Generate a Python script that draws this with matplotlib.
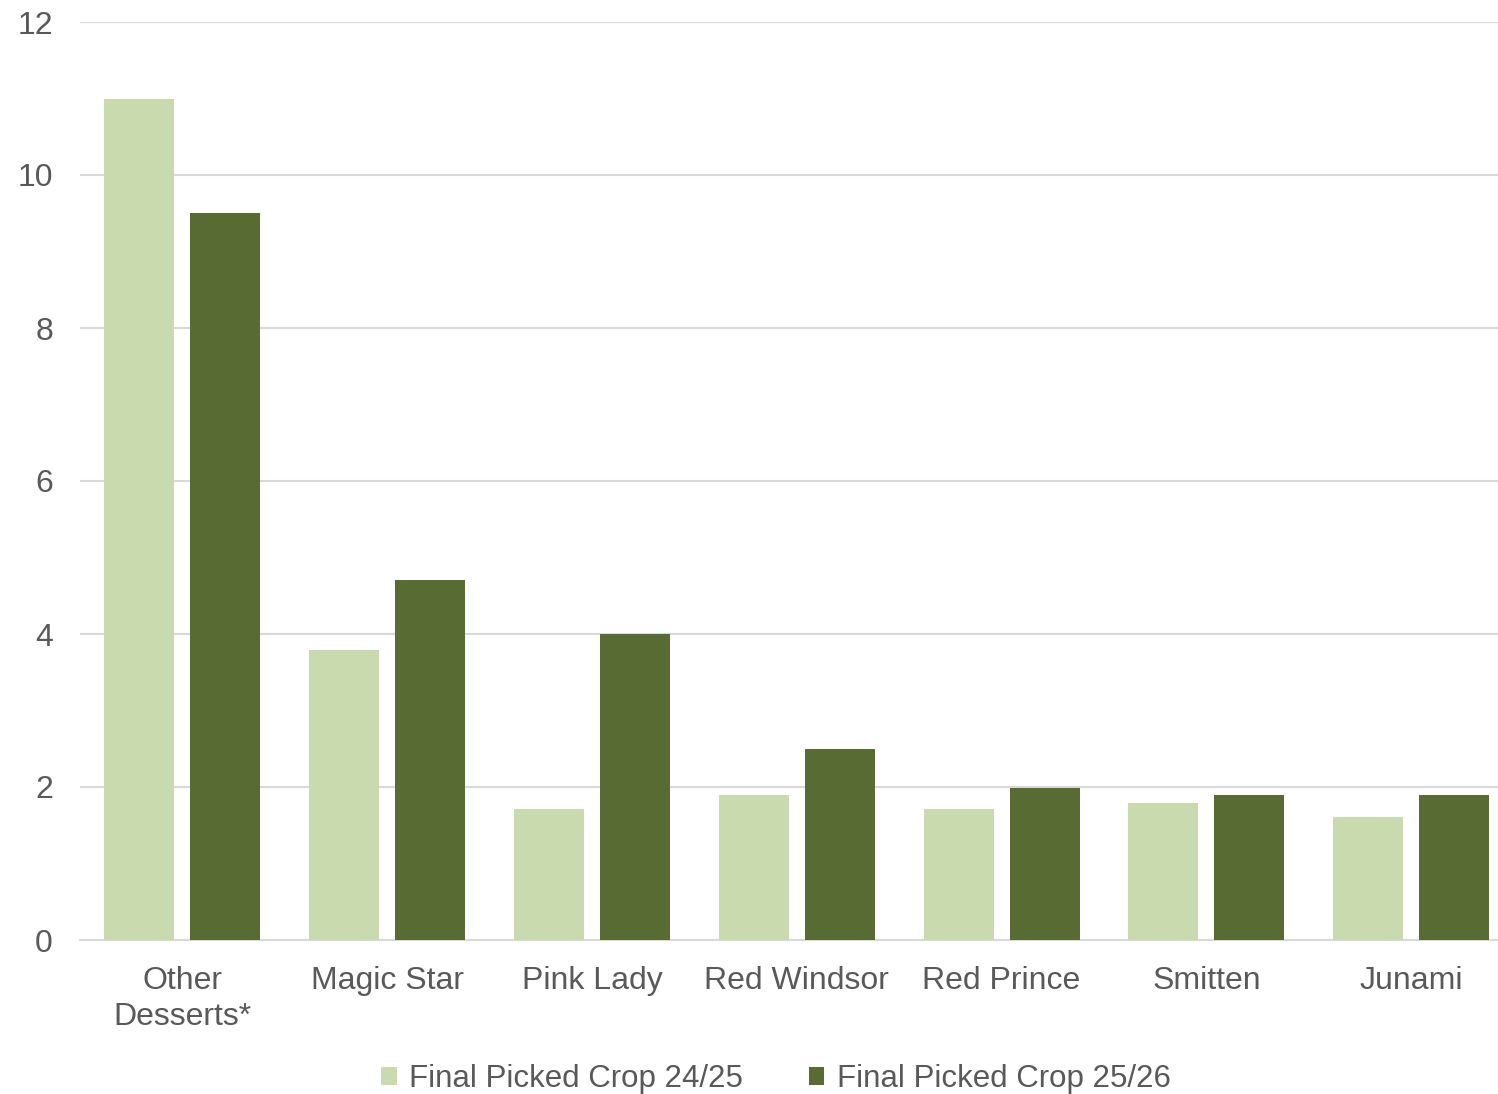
import matplotlib.pyplot as plt
import numpy as np

categories = ["Other\nDesserts*", "Magic Star", "Pink Lady", "Red Windsor",
              "Red Prince", "Smitten", "Junami"]
crop_2425 = [11.0, 3.79, 1.71, 1.90, 1.71, 1.79, 1.61]
crop_2526 = [9.5, 4.71, 4.0, 2.5, 1.99, 1.90, 1.90]
series_names = ["Final Picked Crop 24/25", "Final Picked Crop 25/26"]

light = "#CADAAF"
dark = "#576B33"
text_col = "#595959"
grid_col = "#D9D9D9"

plt.rcParams['font.family'] = ['Liberation Sans', 'DejaVu Sans']

fig = plt.figure(figsize=(14.98, 10.94), dpi=100)
ax = fig.add_axes([80 / 1498, 1 - 940 / 1094, 1418 / 1498, 918 / 1094])

x = np.arange(len(categories))
w = 0.342
ax.bar(x - 0.21, crop_2425, w, color=light, label=series_names[0], zorder=3)
ax.bar(x + 0.21, crop_2526, w, color=dark, label=series_names[1], zorder=3)

ax.set_xlim(-0.5, 6.424)
ax.set_ylim(0, 12)
ax.set_yticks(range(0, 13, 2))
ax.yaxis.grid(True, color=grid_col, linewidth=1.5, zorder=0)
ax.set_xticks(x)
ax.set_xticklabels(categories, fontsize=23, color=text_col, linespacing=1.25)
ax.tick_params(axis='y', labelsize=23, labelcolor=text_col, length=0, pad=19.5)
ax.tick_params(axis='x', length=0, pad=19)
for s in ['top', 'right', 'left']:
    ax.spines[s].set_visible(False)
ax.spines['bottom'].set_color(grid_col)
ax.spines['bottom'].set_linewidth(1.5)

leg = fig.legend(loc='center', bbox_to_anchor=(776 / 1498, 1 - 1079 / 1094),
                 ncol=2, frameon=False, fontsize=22.5, handlelength=0.5,
                 handleheight=0.5, handletextpad=0.4, columnspacing=2.1)
for t in leg.get_texts():
    t.set_color(text_col)

fig.savefig("out.png", dpi=100)
